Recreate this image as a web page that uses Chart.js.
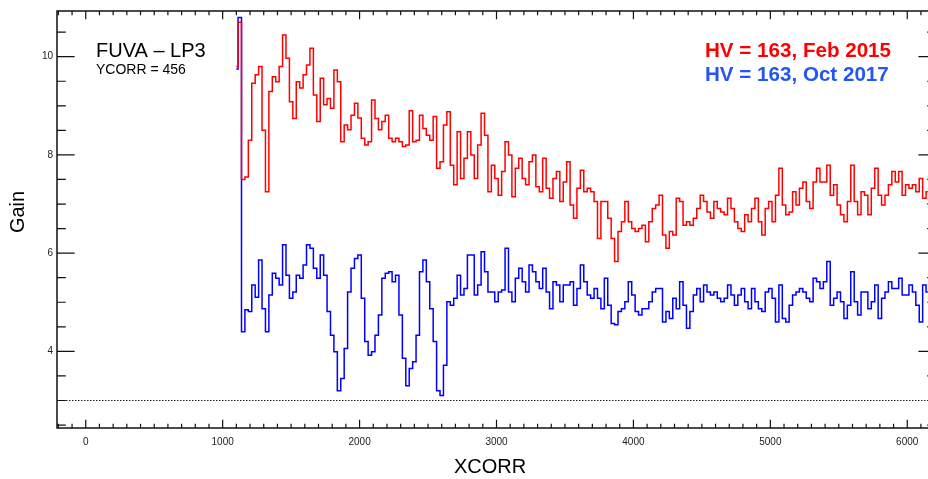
<!DOCTYPE html>
<html>
<head>
<meta charset="utf-8">
<script src="https://cdn.jsdelivr.net/npm/chart.js@4.4.0/dist/chart.umd.min.js"></script>
<style>
  html, body { margin: 0; padding: 0; background: #fff; overflow: hidden; }
  #wrap { width: 940px; height: 479px; }
</style>
</head>
<body>
<div id="wrap"><canvas id="gainChart" width="940" height="479"></canvas></div>
<script>
// gain vs XCORR, sampled every 25 pixels starting at XCORR 1100
const xStart = 1100;
const xStep = 25;

const feb2015 = [
  9.8, 10.7, 7.5, 7.55, 8.3, 9.46, 9.63, 9.8, 8.5, 7.25,
  9.29, 9.59, 9.49, 9.8, 10.44, 9.97, 9.08, 8.74, 9.49, 9.36,
  9.63, 9.83, 10.17, 9.22, 8.68, 9.56, 9.02, 9.15, 8.95, 9.73,
  9.49, 8.27, 8.61, 8.51, 8.81, 9.05, 8.75, 8.34, 8.2, 8.27,
  9.12, 8.74, 8.51, 8.68, 8.81, 8.34, 8.27, 8.34, 8.27, 8.17,
  8.2, 8.9, 8.27, 8.3, 8.81, 8.54, 8.4, 8.3, 8.78, 7.73,
  7.86, 8.61, 8.88, 7.79, 7.39, 8.47, 7.52, 7.93, 8.47, 8.0,
  7.52, 8.2, 8.85, 8.4, 7.25, 7.79, 7.52, 7.18, 7.66, 8.27,
  8.0, 7.15, 7.73, 7.93, 7.52, 7.39, 7.86, 8.0, 7.35, 7.25,
  7.93, 7.32, 7.12, 7.52, 7.66, 7.05, 7.45, 7.86, 6.98, 6.71,
  7.32, 7.69, 7.25, 7.32, 7.25, 7.05, 6.3, 7.05, 7.05, 6.71,
  6.3, 5.83, 6.44, 6.64, 7.05, 6.64, 6.5, 6.44, 6.5, 6.57,
  6.23, 6.64, 6.91, 6.98, 7.18, 6.37, 6.1, 6.44, 6.37, 7.12,
  7.05, 6.57, 6.64, 6.57, 6.71, 6.91, 7.18, 7.05, 6.84, 6.71,
  7.05, 6.91, 6.84, 6.78, 7.12, 6.91, 6.64, 6.5, 6.44, 6.78,
  6.64, 6.91, 7.12, 6.64, 6.37, 6.91, 7.05, 6.64, 7.18, 7.73,
  6.98, 6.78, 6.84, 7.25, 6.98, 7.32, 7.45, 7.05, 6.91, 7.45,
  7.73, 7.45, 7.45, 7.79, 7.18, 7.39, 6.98, 6.78, 6.64, 7.05,
  7.79, 7.05, 6.78, 7.25, 7.18, 6.78, 7.32, 7.73, 7.18, 6.98,
  7.18, 7.39, 7.66, 7.45, 7.66, 7.18, 7.39, 7.32, 7.39, 7.25,
  7.52, 7.12, 7.25
];

const oct2017 = [
  9.75, 10.8, 4.4, 4.85, 4.81, 5.35, 5.1, 5.86, 4.87, 4.4,
  5.15, 5.59, 5.49, 5.35, 6.17, 5.55, 5.08, 5.21, 5.55, 5.49,
  5.76, 6.17, 6.1, 5.69, 5.49, 5.96, 5.55, 4.81, 4.33, 3.99,
  3.2, 3.45, 4.06, 5.21, 5.69, 5.89, 5.96, 5.08, 4.2, 3.92,
  3.99, 4.33, 4.74, 5.49, 5.59, 5.62, 5.42, 5.55, 4.74, 3.86,
  3.3, 3.65, 3.79, 4.33, 5.62, 5.86, 5.42, 4.87, 4.2, 3.2,
  3.1, 3.72, 5.01, 4.94, 5.08, 5.55, 5.15, 5.28, 5.96, 5.96,
  5.15, 5.35, 6.03, 5.62, 5.21, 5.21, 5.01, 5.21, 5.25, 6.1,
  5.21, 5.01, 5.49, 5.69, 5.42, 5.21, 5.76, 5.62, 5.42, 5.28,
  5.69, 5.21, 4.87, 5.42, 5.35, 5.01, 5.35, 5.35, 5.42, 4.94,
  5.28, 5.76, 5.42, 5.15, 5.08, 5.28, 5.08, 4.87, 5.49, 4.94,
  4.57, 4.54, 4.81, 4.87, 5.01, 5.42, 5.15, 4.81, 4.74, 4.87,
  4.87, 5.01, 5.21, 5.28, 5.28, 4.6, 4.81, 4.67, 5.08, 4.87,
  5.42, 4.94, 4.47, 4.81, 5.15, 5.28, 5.01, 5.35, 5.21, 5.15,
  5.21, 5.08, 5.01, 5.08, 5.35, 5.15, 4.94, 5.15, 5.28, 5.01,
  4.87, 5.28, 5.01, 4.87, 4.81, 5.21, 5.28, 5.08, 4.6, 5.35,
  4.67, 4.6, 4.94, 5.15, 5.21, 5.28, 5.21, 5.08, 5.01, 5.49,
  5.42, 5.28, 5.42, 5.83, 4.94, 5.08, 5.21, 5.01, 4.67, 4.94,
  5.62, 5.01, 4.74, 5.21, 5.21, 4.87, 5.01, 5.35, 4.67, 5.08,
  5.21, 5.42, 5.28, 5.28, 5.49, 5.15, 5.15, 5.35, 5.21, 4.94,
  4.6, 5.35, 5.21
];

const xTicks = [0, 1000, 2000, 3000, 4000, 5000, 6000];
const yTicks = [4, 6, 8, 10];
const refLevel = 3;

const X_MIN = -210, X_MAX = 6210;
const Y_MIN = 2.44, Y_MAX = 10.93;

function toPoints(vals) {
  return vals.map((v, i) => ({ x: xStart + i * xStep, y: v }));
}

// IDL-style box axes: inward ticks on all four sides, labels, titles, notes
const idlAxes = {
  id: 'idlAxes',
  beforeDatasetsDraw(chart) {
    const { ctx, chartArea: a, scales: { y } } = chart;
    const py = y.getPixelForValue(refLevel);
    ctx.save();
    ctx.strokeStyle = '#222';
    ctx.lineWidth = 1;
    ctx.setLineDash([1.5, 1.5]);
    ctx.beginPath();
    ctx.moveTo(a.left, Math.round(py) + 0.5);
    ctx.lineTo(a.right, Math.round(py) + 0.5);
    ctx.stroke();
    ctx.restore();
  },
  afterDraw(chart) {
    const { ctx, chartArea: a, scales: { x, y } } = chart;
    ctx.save();
    ctx.strokeStyle = '#111';
    ctx.lineWidth = 1.5;
    ctx.strokeRect(a.left, a.top, a.right - a.left, a.bottom - a.top);

    ctx.lineWidth = 1.2;
    ctx.beginPath();
    for (let v = -200; v <= X_MAX; v += 100) {
      const px = x.getPixelForValue(v);
      const len = v % 1000 === 0 ? 8.3 : 4.2;
      ctx.moveTo(px, a.bottom); ctx.lineTo(px, a.bottom - len);
      ctx.moveTo(px, a.top); ctx.lineTo(px, a.top + len);
    }
    for (let v = 2.5; v <= Y_MAX; v += 0.5) {
      const p = y.getPixelForValue(v);
      const len = v % 2 === 0 ? 17.6 : 8.8;
      ctx.moveTo(a.left, p); ctx.lineTo(a.left + len, p);
      ctx.moveTo(a.right, p); ctx.lineTo(a.right - len, p);
    }
    ctx.stroke();

    ctx.fillStyle = '#222';
    ctx.font = '10px "Liberation Sans", Arial, sans-serif';
    ctx.textAlign = 'center';
    ctx.textBaseline = 'middle';
    xTicks.forEach(v => ctx.fillText(String(v), x.getPixelForValue(v), 442));
    ctx.textAlign = 'right';
    yTicks.forEach(v => ctx.fillText(String(v), 53, y.getPixelForValue(v)));

    ctx.fillStyle = '#000';
    ctx.font = '20px "Liberation Sans", Arial, sans-serif';
    ctx.textAlign = 'center';
    ctx.fillText('XCORR', 490, 467);
    ctx.save();
    ctx.translate(18, 212);
    ctx.rotate(-Math.PI / 2);
    ctx.fillText('Gain', 0, 0);
    ctx.restore();

    ctx.textAlign = 'left';
    ctx.textBaseline = 'alphabetic';
    ctx.fillText('FUVA \u2013 LP3', 96, 57);
    ctx.font = '14px "Liberation Sans", Arial, sans-serif';
    ctx.fillText('YCORR = 456', 96, 74);

    ctx.font = 'bold 20.6px "Liberation Sans", Arial, sans-serif';
    ctx.fillStyle = '#ff0000';
    ctx.fillText('HV = 163, Feb 2015', 705, 57);
    ctx.fillStyle = '#2456f0';
    ctx.fillText('HV = 163, Oct 2017', 705, 81);
    ctx.restore();
  }
};

new Chart(document.getElementById('gainChart'), {
  type: 'line',
  data: {
    datasets: [
      {
        label: 'HV = 163, Feb 2015',
        data: toPoints(feb2015),
        borderColor: '#ff0000',
        borderWidth: 1.5,
        stepped: 'middle',
        pointRadius: 0,
        fill: false
      },
      {
        label: 'HV = 163, Oct 2017',
        data: toPoints(oct2017),
        borderColor: '#0000ff',
        borderWidth: 1.5,
        stepped: 'middle',
        pointRadius: 0,
        fill: false
      }
    ]
  },
  options: {
    responsive: false,
    animation: false,
    events: [],
    layout: { padding: { left: 57, top: 11, right: 4, bottom: 51 } },
    plugins: { legend: { display: false }, tooltip: { enabled: false } },
    scales: {
      x: { type: 'linear', min: X_MIN, max: X_MAX, display: false },
      y: { type: 'linear', min: Y_MIN, max: Y_MAX, display: false }
    }
  },
  plugins: [idlAxes]
});
</script>
</body>
</html>
